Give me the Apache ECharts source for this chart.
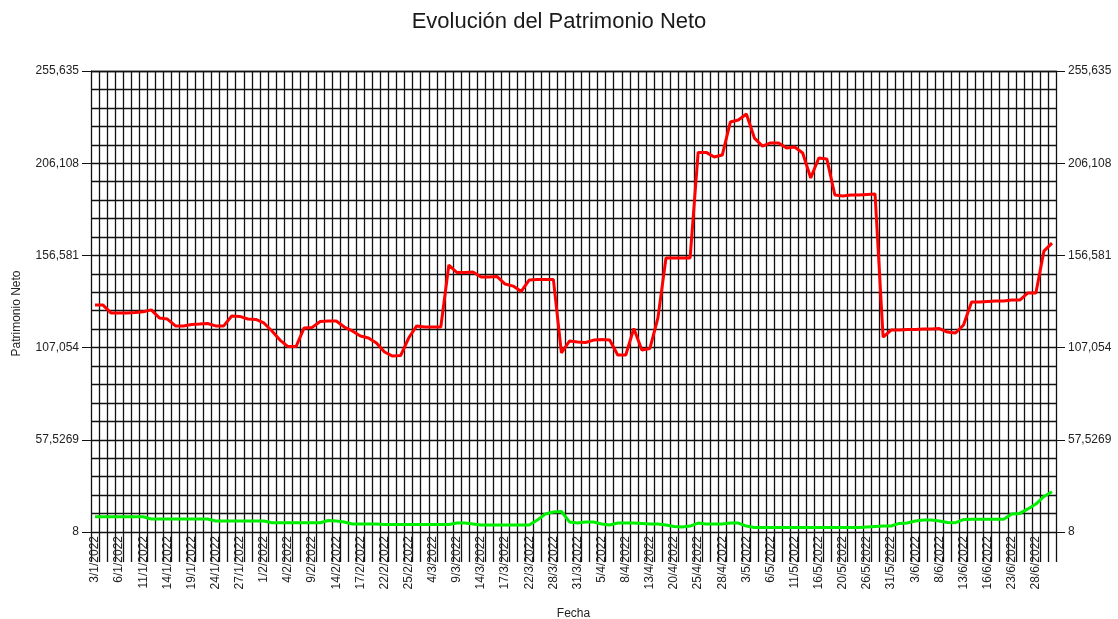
<!DOCTYPE html>
<html>
<head>
<meta charset="utf-8">
<title>Evolución del Patrimonio Neto</title>
<script src="https://cdn.jsdelivr.net/npm/echarts@6/dist/echarts.min.js"></script>
<style>
  html, body { margin: 0; padding: 0; background: #fff; }
  #chart { width: 1118px; height: 619px; }
</style>
</head>
<body>
<div id="chart"></div>
<script>
  // fechas (días hábiles)
  var fechas = [
    '3/1/2022', '4/1/2022', '5/1/2022', '6/1/2022', '7/1/2022', '10/1/2022', '11/1/2022', '12/1/2022', '13/1/2022', '14/1/2022',
    '17/1/2022', '18/1/2022', '19/1/2022', '20/1/2022', '21/1/2022', '24/1/2022', '25/1/2022', '26/1/2022', '27/1/2022', '28/1/2022',
    '31/1/2022', '1/2/2022', '2/2/2022', '3/2/2022', '4/2/2022', '7/2/2022', '8/2/2022', '9/2/2022', '10/2/2022', '11/2/2022',
    '14/2/2022', '15/2/2022', '16/2/2022', '17/2/2022', '18/2/2022', '21/2/2022', '22/2/2022', '23/2/2022', '24/2/2022', '25/2/2022',
    '1/3/2022', '3/3/2022', '4/3/2022', '7/3/2022', '8/3/2022', '9/3/2022', '10/3/2022', '11/3/2022', '14/3/2022', '15/3/2022',
    '16/3/2022', '17/3/2022', '18/3/2022', '21/3/2022', '22/3/2022', '23/3/2022', '25/3/2022', '28/3/2022', '29/3/2022', '30/3/2022',
    '31/3/2022', '1/4/2022', '4/4/2022', '5/4/2022', '6/4/2022', '7/4/2022', '8/4/2022', '11/4/2022', '12/4/2022', '13/4/2022',
    '18/4/2022', '19/4/2022', '20/4/2022', '21/4/2022', '22/4/2022', '25/4/2022', '26/4/2022', '27/4/2022', '28/4/2022', '29/4/2022',
    '2/5/2022', '3/5/2022', '4/5/2022', '5/5/2022', '6/5/2022', '9/5/2022', '10/5/2022', '11/5/2022', '12/5/2022', '13/5/2022',
    '16/5/2022', '17/5/2022', '19/5/2022', '20/5/2022', '23/5/2022', '25/5/2022', '26/5/2022', '27/5/2022', '30/5/2022', '31/5/2022',
    '1/6/2022', '2/6/2022', '3/6/2022', '6/6/2022', '7/6/2022', '8/6/2022', '9/6/2022', '10/6/2022', '13/6/2022', '14/6/2022',
    '15/6/2022', '16/6/2022', '17/6/2022', '21/6/2022', '23/6/2022', '24/6/2022', '27/6/2022', '28/6/2022', '29/6/2022', '30/6/2022'
  ];

  // patrimonio neto (rojo)
  var patrimonio = [
    129.9, 129.9, 125.6, 125.6, 125.6, 125.9, 126.3, 127.3, 123.0, 122.4,
    118.7, 118.7, 119.5, 119.7, 120.0, 118.7, 118.7, 124.0, 123.8, 122.4,
    122.2, 120.3, 116.0, 111.1, 107.6, 107.6, 117.6, 117.9, 121.1, 121.3,
    121.3, 118.1, 116.0, 113.3, 112.2, 109.5, 104.7, 102.5, 102.8, 112.2,
    118.7, 118.1, 118.1, 118.1, 151.4, 147.4, 147.4, 147.7, 145.0, 145.0,
    145.2, 141.2, 140.1, 137.2, 143.4, 143.6, 143.6, 143.6, 104.2, 110.6,
    110.1, 109.8, 111.1, 111.4, 111.1, 103.1, 103.1, 117.3, 105.8, 106.6,
    123.0, 155.2, 155.2, 155.2, 155.2, 211.9, 211.9, 209.4, 210.5, 228.2,
    229.3, 232.5, 219.6, 215.3, 217.0, 217.0, 214.3, 214.8, 211.6, 198.2,
    208.9, 208.4, 189.0, 188.5, 189.0, 189.0, 189.3, 189.6, 112.7, 116.5,
    116.5, 116.8, 116.8, 117.0, 117.0, 117.3, 115.4, 114.9, 119.2, 131.5,
    131.5, 131.8, 132.1, 132.1, 132.6, 132.6, 136.4, 136.4, 158.9, 163.2
  ];

  // serie verde
  var serieVerde = [
    16.2, 16.2, 16.2, 16.2, 16.2, 16.2, 16.2, 15.0, 15.0, 15.0,
    15.0, 15.0, 15.0, 15.0, 15.0, 13.9, 13.9, 13.9, 13.9, 13.9,
    13.9, 13.9, 13.0, 13.0, 13.0, 13.0, 13.0, 13.0, 13.0, 14.2,
    13.9, 13.4, 12.3, 12.3, 12.3, 12.3, 12.0, 12.0, 12.0, 12.0,
    12.0, 12.0, 12.0, 12.0, 12.0, 12.8, 12.8, 12.3, 11.8, 11.8,
    11.8, 11.8, 11.8, 11.8, 11.8, 14.4, 17.7, 18.7, 19.0, 13.4,
    12.8, 13.4, 13.4, 12.3, 11.8, 12.8, 12.8, 12.8, 12.6, 12.3,
    12.3, 11.8, 11.0, 10.7, 11.2, 12.8, 12.3, 12.3, 12.3, 12.8,
    12.8, 11.2, 10.4, 10.4, 10.4, 10.4, 10.4, 10.4, 10.4, 10.4,
    10.4, 10.4, 10.4, 10.4, 10.4, 10.4, 10.7, 11.0, 11.2, 11.2,
    12.6, 12.8, 13.9, 14.4, 14.4, 13.9, 13.1, 13.0, 14.7, 14.8,
    14.8, 14.8, 14.8, 14.8, 17.7, 18.0, 20.4, 23.0, 27.1, 29.6
  ];

  // marcas del eje vertical
  var yTicks = [8, 57.5269, 107.054, 156.581, 206.108, 255.635];
  var yTickLabels = ['8', '57,5269', '107,054', '156,581', '206,108', '255,635'];

  var FONT = 'Liberation Sans, Arial, sans-serif';
  var yMin = yTicks[0], yMax = yTicks[yTicks.length - 1];
  var minorStep = (yTicks[1] - yTicks[0]) / 5;

  function yLabel(v) {
    for (var i = 0; i < yTicks.length; i++) {
      if (Math.abs(yTicks[i] - v) < 0.01) return yTickLabels[i];
    }
    return '';
  }

  function valueAxis(pos) {
    return {
      type: 'value',
      position: pos,
      min: yMin,
      max: yMax,
      axisLine: { show: true, lineStyle: { color: '#111', width: 1 } },
      axisTick: { show: true, length: 9, customValues: yTicks, lineStyle: { color: '#111' } },
      axisLabel: {
        customValues: yTicks,
        formatter: yLabel,
        color: '#222',
        fontFamily: FONT,
        fontSize: 12,
        margin: 12
      },
      splitLine: { show: false }
    };
  }

  var chart = echarts.init(document.getElementById('chart'), null, { renderer: 'canvas' });

  var leftAxis = valueAxis('left');
  leftAxis.name = 'Patrimonio Neto';
  leftAxis.nameLocation = 'middle';
  leftAxis.nameGap = 68;
  leftAxis.nameTextStyle = { color: '#222', fontFamily: FONT, fontSize: 12, padding: [0, 24, 0, 0] };

  var option = {
    animation: false,
    backgroundColor: '#fff',
    title: {
      text: 'Evolución del Patrimonio Neto',
      left: 'center',
      top: 6,
      textStyle: { color: '#1a1a1a', fontFamily: FONT, fontSize: 22, fontWeight: 'normal' }
    },
    grid: { left: 91, right: 62, top: 71, bottom: 87, outerBoundsMode: 'none', containLabel: false },
    xAxis: {
      type: 'category',
      data: fechas,
      boundaryGap: true,
      name: 'Fecha',
      nameLocation: 'middle',
      nameGap: 76,
      nameTextStyle: { color: '#222', fontFamily: FONT, fontSize: 12 },
      axisLine: { lineStyle: { color: '#111', width: 1 } },
      axisTick: { show: true, interval: 0, length: 30, lineStyle: { color: '#111', width: 1.3 } },
      axisLabel: {
        interval: 2,
        rotate: 90,
        color: '#222',
        fontFamily: FONT,
        fontSize: 12,
        margin: 4
      },
      splitLine: { show: true, interval: 0, lineStyle: { color: '#111', width: 1.3 } }
    },
    yAxis: [
      leftAxis,
      valueAxis('right'),
      {
        // solo para la cuadrícula fina
        type: 'value',
        position: 'left',
        min: 0,
        max: yMax - yMin,
        interval: minorStep,
        axisLine: { show: false },
        axisTick: { show: false },
        axisLabel: { show: false },
        splitLine: { show: true, lineStyle: { color: '#111', width: 1.3 } }
      }
    ],
    series: [
      {
        name: 'Patrimonio Neto',
        type: 'line',
        data: patrimonio,
        yAxisIndex: 0,
        showSymbol: false,
        lineStyle: { color: '#ff0000', width: 3 },
        itemStyle: { color: '#ff0000' },
        z: 5
      },
      {
        name: 'Verde',
        type: 'line',
        data: serieVerde,
        yAxisIndex: 0,
        showSymbol: false,
        lineStyle: { color: '#00ee00', width: 3 },
        itemStyle: { color: '#00ee00' },
        z: 5
      }
    ]
  };

  chart.setOption(option);
</script>
</body>
</html>
